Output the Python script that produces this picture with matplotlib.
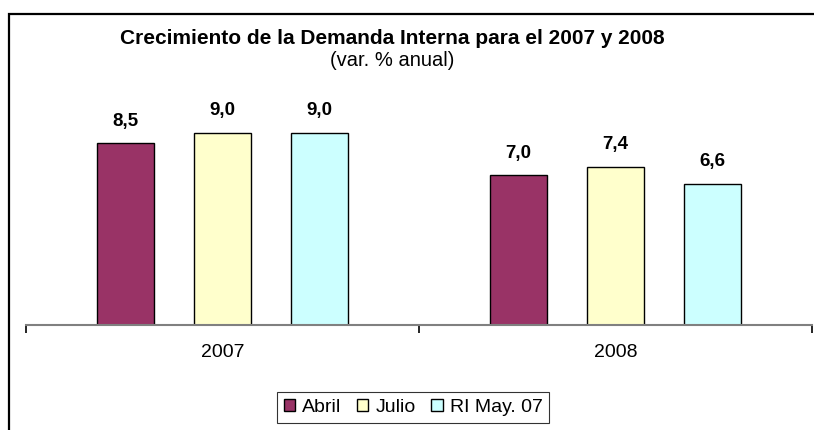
import numpy as np
import matplotlib.pyplot as plt
import matplotlib.patches as mpatches

plt.rcParams['font.family'] = ['Liberation Sans', 'DejaVu Sans']

# datos
anios = ['2007', '2008']
series = ['Abril', 'Julio', 'RI May. 07']
abril = [8.5, 7.0]
julio = [9.0, 7.4]
ri_may = [9.0, 6.6]
colores = ['#993366', '#FFFFCC', '#CCFFFF']

fig = plt.figure(figsize=(8.14, 4.30), dpi=100)
ax = fig.add_axes([26/814, 105/430, 786/814, 235/430])

x = np.arange(len(anios))
paso = 0.247
ancho = 0.145
valores = [abril, julio, ri_may]
for i, (nombre, vals, col) in enumerate(zip(series, valores, colores)):
    pos = x + (i - 1) * paso
    ax.bar(pos, vals, width=ancho, color=col, edgecolor='black',
           linewidth=1.0, label=nombre)
    for xb, v in zip(pos, vals):
        ax.text(xb, v + 1.03, f'{v:.1f}'.replace('.', ','), ha='center',
                va='center', fontsize=13.5, fontweight='bold')

ax.set_xlim(-0.5, 1.5)
ax.set_ylim(0, 11)
ax.set_yticks([])
for s in ['left', 'right', 'top']:
    ax.spines[s].set_visible(False)
ax.spines['bottom'].set_color('#808080')
ax.spines['bottom'].set_linewidth(1.5)
ax.set_xticks(x)
ax.set_xticklabels(anios, fontsize=14)
ax.tick_params(axis='x', which='major', length=0, pad=14)
ax.set_xticks([-0.5, 0.5, 1.5], minor=True)
ax.tick_params(axis='x', which='minor', length=6, width=1.2, color='black')

# titulo
fig.text(392/814, 1 - 39/430, 'Crecimiento de la Demanda Interna para el 2007 y 2008',
         ha='center', va='center', fontsize=15, fontweight='bold')
fig.text(392/814, 1 - 61/430, '(var. % anual)', ha='center', va='center', fontsize=14.5)

# leyenda
leg = fig.legend(loc='upper center', bbox_to_anchor=(413/814, 1 - 392/430),
                 ncol=3, fontsize=14, frameon=True, fancybox=False,
                 handlelength=0.6, handleheight=0.6, handletextpad=0.35,
                 columnspacing=0.8, borderpad=0.35, borderaxespad=0)
leg.get_frame().set_edgecolor('black')
leg.get_frame().set_linewidth(0.8)

# marco del grafico
marco = mpatches.Rectangle((9/814, -0.2), 1.0, 1.2 - 14/430, transform=fig.transFigure,
                           fill=False, edgecolor='black', linewidth=1.6)
fig.patches.append(marco)

fig.savefig('out.png', dpi=100)
